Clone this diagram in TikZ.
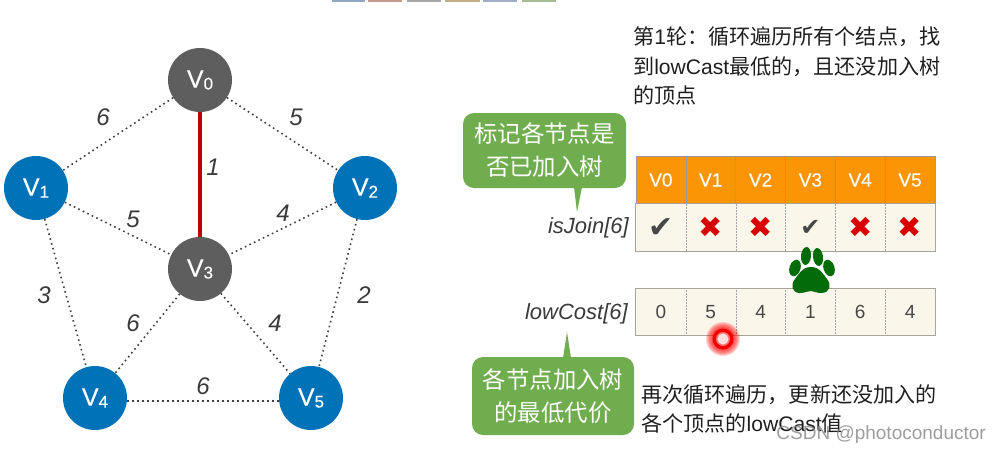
\documentclass[tikz,border=0pt]{standalone}
\usepackage{fontspec}
\setmainfont{Liberation Sans}
\newfontfamily\cjk{Noto Sans CJK SC}
\newfontfamily\dv{DejaVu Sans}
\newfontfamily\semib[FakeBold=0.35]{Liberation Sans}
\usetikzlibrary{calc}
\definecolor{nodeblue}{HTML}{0073B8}
\definecolor{nodegrey}{HTML}{5E5E5E}
\definecolor{tabor}{HTML}{FB9506}
\definecolor{cream}{HTML}{FAF6EA}
\definecolor{tabline}{HTML}{A8A69C}
\definecolor{callgreen}{HTML}{70AD4E}
\definecolor{pawgreen}{HTML}{036B07}
\definecolor{inktext}{HTML}{3A3A3A}
\newcommand{\fs}[2]{\fontsize{#1}{#2}\selectfont}
\newcommand{\vname}[1]{V\raisebox{-2pt}{\fs{17}{17}#1}}
\tikzset{
  vert/.style={circle,minimum size=64pt,inner sep=0pt,text=white,font=\semib\fs{25}{25}},
  vblue/.style={vert,fill=nodeblue},
  vgrey/.style={vert,fill=nodegrey},
  weight/.style={font=\fs{24}{24}\itshape,text=inktext,inner sep=0pt},
  dotedge/.style={draw=black!75,line width=1.6pt,dash pattern=on 1.6pt off 3.4pt},
  hcell/.style={fill=tabor,draw=black!40,line width=.5pt,minimum width=49.83pt,minimum height=48pt,inner sep=0pt,text=white,font=\semib\fs{19}{19}},
  bcell/.style={fill=cream,minimum width=49.83pt,minimum height=47.5pt,inner sep=0pt,text=black!72,font=\fs{19}{19}},
  callout/.style={fill=callgreen,rounded corners=11pt,inner sep=0pt,text=white,align=center,font=\fs{23.4}{33}\cjk},
  bodytext/.style={inner sep=0pt,anchor=west,align=left,text=black!88,font=\fs{21.1}{29.5}\cjk},
  arrlabel/.style={inner sep=0pt,anchor=east,font=\fs{22}{22}\itshape,text=inktext},
  tick/.style={font=\dv,text=black!72,inner sep=0pt},
  cross/.style={font=\dv\fs{29}{29},text=red!85!black,inner sep=0pt},
}
\begin{document}
\begin{tikzpicture}[x=1pt,y=-1pt]
\useasboundingbox (0,0) rectangle (1001,455);
% thumbnails at the top edge
\foreach \a/\b/\c in {332/365/8FA6C4,368/402/C49A8C,407/441/A8A8A8,445/480/C4AE88,483/517/9FAECB,522/556/A3BC92}{
  \definecolor{tmp}{HTML}{\c}
  \fill[tmp] (\a,0) rectangle (\b,1.6);
}
% graph
\node[vgrey] (v0) at (200,80) {\vname{0}};
\node[vblue] (v1) at (36,188) {\vname{1}};
\node[vblue] (v2) at (365,188) {\vname{2}};
\node[vgrey] (v3) at (200,269) {\vname{3}};
\node[vblue] (v4) at (95,398) {\vname{4}};
\node[vblue] (v5) at (311,398) {\vname{5}};
\draw[dotedge] (v0) -- (v1);
\draw[dotedge] (v0) -- (v2);
\draw[dotedge] (v1) -- (v3);
\draw[dotedge] (v2) -- (v3);
\draw[dotedge] (v1) -- (v4);
\draw[dotedge] (v2) -- (v5);
\draw[dotedge] (v3) -- (v4);
\draw[dotedge] (v3) -- (v5);
\draw[dotedge] ([yshift=-3pt]v4.east) -- ([yshift=-3pt]v5.west);
\draw[line width=3.4pt,color=red!75!black] (v0) -- (v3);
\node[weight] (w1) at (103,117) {6};
\node[weight] (w2) at (296,117) {5};
\node[weight] (w3) at (213,167) {1};
\node[weight] (w4) at (133,219) {5};
\node[weight] (w5) at (283,213) {4};
\node[weight] (w6) at (44,295) {3};
\node[weight] (w7) at (364,295) {2};
\node[weight] (w8) at (133,323) {6};
\node[weight] (w9) at (275,323) {4};
\node[weight] (w10) at (203,386) {6};
% top text
\node[bodytext] (t1) at (633,66) {第{\fontspec{Liberation Sans}1}轮：循环遍历所有个结点，找\\到{\fontspec{Liberation Sans}lowCast}最低的，且还没加入树\\的顶点};
% isJoin table
\foreach \i/\t in {0/V0,1/V1,2/V2,3/V3,4/V4,5/V5}{
  \node[hcell] (h\i) at ({660.9+49.83*\i},180) {\t};
}
\foreach \i in {0,...,5}{
  \node[bcell] (j\i) at ({660.9+49.83*\i},227.7) {};
  \node[bcell] (c\i) at ({660.9+49.83*\i},312) {};
}
\foreach \i in {0,...,4}{
  \draw[black!35,line width=.5pt,densely dotted] (j\i.north east) -- (j\i.south east);
  \draw[black!35,line width=.5pt,densely dotted] (c\i.north east) -- (c\i.south east);
}
\draw[tabline,line width=1pt] (j0.north west) rectangle (j5.south east);
\draw[tabline,line width=1pt] (c0.north west) rectangle (c5.south east);
\node[tick,font=\dv\fs{30}{30}] (m0) at (j0) {✔};
\node[cross] (m1) at (j1) {✖};
\node[cross] (m2) at (j2) {✖};
\node[tick,font=\dv\fs{24}{24}] (m3) at (j3) {✔};
\node[cross] (m4) at (j4) {✖};
\node[cross] (m5) at (j5) {✖};
\foreach \i/\t in {0/0,1/5,2/4,3/1,4/6,5/4}{
  \node[inner sep=0pt,text=black!72,font=\fs{19}{19}] (n\i) at (c\i) {\t};
}
\node[arrlabel] (lj) at (629,228) {isJoin[6]};
\node[arrlabel] (lc) at (628,314) {lowCost[6]};
% callouts
\node[callout,minimum width=163pt,minimum height=75pt] (call1) at (544.5,150.5) {标记各节点是\\否已加入树};
\fill[callgreen] (574,187) -- (577,212) -- (582,187) -- cycle;
\node[callout,minimum width=162pt,minimum height=78pt] (call2) at (553,396) {各节点加入树\\的最低代价};
\fill[callgreen] (563,358) -- (567,332) -- (571,358) -- cycle;
% paw
\fill[pawgreen] (795,268) ellipse[x radius=5.5pt,y radius=8.5pt,rotate=-18];
\fill[pawgreen] (806,256) ellipse[x radius=5pt,y radius=9pt,rotate=-5];
\fill[pawgreen] (818,257) ellipse[x radius=5pt,y radius=9pt,rotate=8];
\fill[pawgreen] (829,268) ellipse[x radius=5.5pt,y radius=8.5pt,rotate=18];
\fill[pawgreen] (811,267) .. controls (820,267) and (823,274) .. (827,279)
  .. controls (832,285) and (830,293) .. (821,293)
  .. controls (816,293) and (814,291) .. (811,291)
  .. controls (807,291) and (805,293) .. (800,293)
  .. controls (792,293) and (790,285) .. (795,279)
  .. controls (799,274) and (802,267) .. (811,267) -- cycle;
% pointer dot
\foreach \r in {17,16,15,14,13,12,11}{
  \fill[red,opacity=.16] (723,339) circle[radius=\r pt];
}
\fill[red!95!black] (723,339) circle[radius=10.5pt];
\fill[red!55!white] (723,339) circle[radius=7pt];
\fill[red!12!white] (723,339) circle[radius=5.5pt];
% bottom text
\node[bodytext] (t2) at (641,409) {再次循环遍历，更新还没加入的\\各个顶点的{\fontspec{Liberation Sans}lowCast}值};
% watermark
\node[inner sep=0pt,anchor=east,text=black!45,opacity=.85,font=\fs{19}{19}] (wm) at (986,435) {CSDN @photoconductor};
\end{tikzpicture}
\end{document}
